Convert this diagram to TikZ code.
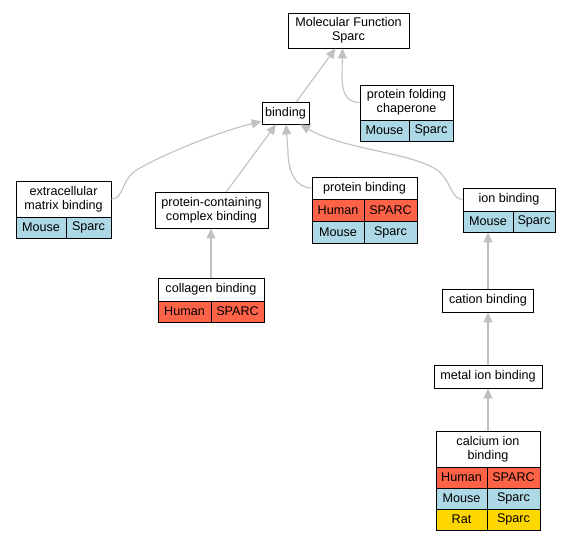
\documentclass[tikz,border=0pt]{standalone}
\usepackage{fontspec}
\setmainfont{Liberation Sans}
\usetikzlibrary{arrows.meta,calc}
\definecolor{tomatoc}{HTML}{FF6347}
\definecolor{lblue}{HTML}{ADD8E6}
\definecolor{goldc}{HTML}{FFD700}
\definecolor{edgec}{HTML}{C0C0C0}
\tikzset{
  cell/.style={draw=black, line width=0.9bp, inner sep=0pt, align=center,
    font=\fontsize{12.6bp}{14bp}\selectfont, fill=white},
  sz/.style 2 args={minimum width=#1bp, minimum height=#2bp},
  hum/.style={fill=tomatoc},
  mou/.style={fill=lblue},
  rat/.style={fill=goldc},
  edge/.style={draw=edgec, line width=1.1bp, -{Triangle[length=10bp,width=9bp]}},
}
\begin{document}
\begin{tikzpicture}[x=1bp,y=-1bp]
\useasboundingbox (0,0) rectangle (571,541);
% nodes
\node[cell,sz={121}{35}] (MF) at (348.5,30.5) {Molecular Function\\Sparc};
\node[cell,sz={93}{35}] (chapH) at (406.5,102.5) {protein folding\\chaperone};
\node[cell,mou,sz={49}{21}] (chapM) at (384.5,130.5) {Mouse};
\node[cell,mou,sz={44}{21}] (chapS) at (431,130.5) {Sparc};
\node[cell,sz={47}{22}] (binding) at (285.5,113) {binding};
\node[cell,sz={95}{36}] (ecmH) at (63.5,199) {extracellular\\matrix binding};
\node[cell,mou,sz={50}{21}] (ecmM) at (41,227.5) {Mouse};
\node[cell,mou,sz={45}{21}] (ecmS) at (88.5,227.5) {Sparc};
\node[cell,sz={113}{36}] (pcc) at (211.5,210) {protein-containing\\complex binding};
\node[cell,sz={105}{22}] (pbH) at (364.5,188) {protein binding};
\node[cell,hum,sz={52}{22}] (pbHu) at (338,210) {Human};
\node[cell,hum,sz={53}{22}] (pbHS) at (390.5,210) {SPARC};
\node[cell,mou,sz={52}{22}] (pbMo) at (338,232) {Mouse};
\node[cell,mou,sz={53}{22}] (pbMS) at (390.5,232) {Sparc};
\node[cell,sz={92}{23}] (ionH) at (509,199.5) {ion binding};
\node[cell,mou,sz={50}{21}] (ionM) at (488,221.5) {Mouse};
\node[cell,mou,sz={42}{21}] (ionS) at (534,221.5) {Sparc};
\node[cell,sz={106}{23}] (colH) at (211,289.5) {collagen binding};
\node[cell,hum,sz={53}{21}] (colHu) at (184.5,311.5) {Human};
\node[cell,hum,sz={53}{21}] (colHS) at (237.5,311.5) {SPARC};
\node[cell,sz={91}{23}] (cation) at (488,300.5) {cation binding};
\node[cell,sz={108}{23}] (metal) at (488,376.5) {metal ion binding};
\node[cell,sz={104}{36}] (caH) at (488,449) {calcium ion\\binding};
\node[cell,hum,sz={51}{21}] (caHu) at (461.5,477.5) {Human};
\node[cell,hum,sz={53}{21}] (caHS) at (513.5,477.5) {SPARC};
\node[cell,mou,sz={51}{21}] (caMo) at (461.5,498.5) {Mouse};
\node[cell,mou,sz={53}{21}] (caMS) at (513.5,498.5) {Sparc};
\node[cell,rat,sz={51}{21}] (caRa) at (461.5,519.5) {Rat};
\node[cell,rat,sz={53}{21}] (caRS) at (513.5,519.5) {Sparc};
% edges
\draw[edge] ($(binding.north)+(11,0)$) -- ($(MF.south)+(-13,0)$);
\draw[edge] (chapH.west) .. controls (346,102.5) and (342,92) .. (342,76) -- ($(MF.south)+(-6,0)$);
\draw[edge] (ecmH.east) .. controls (125,199) and (120,178) .. (140,168) .. controls (172,150) and (225,130) .. ($(binding.south west)+(0,-3)$);
\draw[edge] ($(pcc.north)+(15,0)$) -- ($(binding.south)+(-9.5,0)$);
\draw[edge] (pbH.west) .. controls (296,188) and (288,172) .. (288,152) -- ($(binding.south)+(0.5,0)$);
\draw[edge] (ionH.west) .. controls (451,199.5) and (451,180) .. (437,170) .. controls (410,152) and (345,150) .. ($(binding.south)+(14.5,0)$);
\draw[edge] (colH.north) -- (pcc.south -| colH.north);
\draw[edge] (cation.north) -- (ionM.south -| cation.north);
\draw[edge] (metal.north) -- (cation.south);
\draw[edge] (caH.north) -- (metal.south);
\end{tikzpicture}
\end{document}
